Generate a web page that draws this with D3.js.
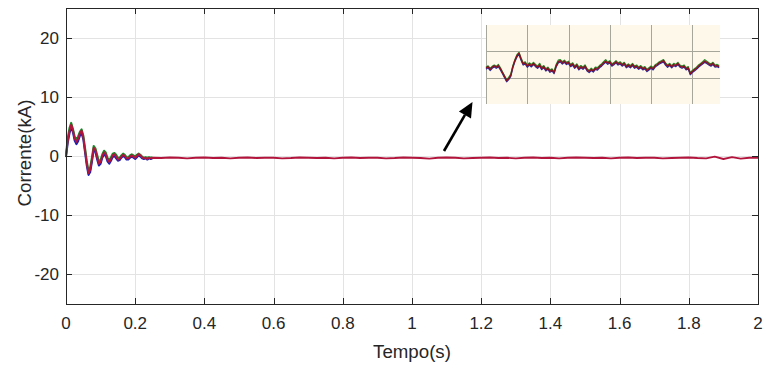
<!DOCTYPE html>
<html><head><meta charset="utf-8">
<script src="https://cdn.jsdelivr.net/npm/d3@7"></script>
<style>body{margin:0;background:#fff}svg{display:block}text{font-family:"Liberation Sans",Arial,sans-serif;fill:#262626}</style>
</head><body><svg id="c" width="764" height="365"></svg>
<script>
// ---- data ----
const xTicks = [0,0.2,0.4,0.6,0.8,1,1.2,1.4,1.6,1.8,2];
const yTicks = [-20,-10,0,10,20];
const xLabel = "Tempo(s)";
const yLabel = "Corrente(kA)";
// transient samples every 5 ms (0 .. 0.25 s)
const transientStep = 0.005;
const transientRed = [0.0,2.6,4.2,5.3,4.4,3.0,2.4,2.9,3.8,4.3,3.2,1.0,-1.2,-2.9,-2.3,-0.6,1.4,1.0,-0.2,-1.3,-1.0,0.0,0.6,0.3,-0.6,-1.0,-0.5,0.1,0.3,-0.1,-0.6,-0.5,-0.1,0.2,0.0,-0.4,-0.4,-0.1,0.1,-0.1,-0.3,0.0,0.3,0.1,-0.2,-0.4,-0.3,-0.5,-0.3,-0.4,-0.3];
const transientGreen = [0.3,3.0,4.7,5.6,4.6,3.3,2.8,3.3,4.1,4.5,3.5,1.4,-0.8,-2.5,-1.9,-0.2,1.7,1.3,0.2,-0.9,-0.7,0.3,0.9,0.6,-0.3,-0.7,-0.2,0.4,0.5,0.2,-0.3,-0.3,0.1,0.4,0.2,-0.2,-0.2,0.1,0.3,0.1,-0.1,0.2,0.4,0.2,-0.1,-0.3,-0.2,-0.3,-0.2,-0.3,-0.2];
const transientBlue = [-0.2,2.2,3.8,4.9,4.0,2.6,2.0,2.5,3.4,3.9,2.8,0.6,-1.6,-3.2,-2.7,-1.0,1.0,0.7,-0.6,-1.6,-1.3,-0.3,0.3,0.0,-0.9,-1.3,-0.8,-0.2,0.0,-0.4,-0.8,-0.7,-0.3,0.0,-0.2,-0.6,-0.6,-0.3,-0.1,-0.3,-0.5,-0.2,0.1,-0.1,-0.4,-0.5,-0.4,-0.6,-0.4,-0.5,-0.4];
// steady state samples every 25 ms (0.275 .. 2.0 s)
const steadyStart = 0.275, steadyStep = 0.025;
const steadyRed = [-0.35,-0.25,-0.3,-0.4,-0.3,-0.25,-0.35,-0.3,-0.4,-0.3,
 -0.25,-0.35,-0.3,-0.3,-0.4,-0.35,-0.25,-0.3,-0.35,-0.3,
 -0.4,-0.3,-0.25,-0.35,-0.3,-0.3,-0.4,-0.35,-0.25,-0.3,
 -0.35,-0.45,-0.3,-0.25,-0.3,-0.4,-0.35,-0.3,-0.25,-0.35,
 -0.3,-0.4,-0.3,-0.25,-0.35,-0.3,-0.4,-0.3,-0.25,-0.3,
 -0.35,-0.3,-0.4,-0.3,-0.25,-0.35,-0.3,-0.3,-0.4,-0.35,
 -0.3,-0.25,-0.35,-0.4,-0.1,-0.5,-0.2,-0.45,-0.3,-0.3];
// inset (zoomed detail), samples every 0.05 inset units
const insetStep = 0.05;
const insetGridX = [0,1,2,3,4,5];
const insetGridY = [0,-1];
const insetRed = [-0.63,-0.58,-0.68,-0.60,-0.55,-0.60,-0.54,-0.66,-0.80,-0.95,-1.10,-1.02,-0.90,-0.58,-0.35,-0.18,-0.08,-0.30,-0.48,-0.44,-0.56,-0.48,-0.55,-0.46,-0.54,-0.60,-0.52,-0.65,-0.58,-0.70,-0.64,-0.75,-0.70,-0.80,-0.55,-0.40,-0.36,-0.44,-0.38,-0.46,-0.42,-0.54,-0.48,-0.60,-0.52,-0.66,-0.58,-0.64,-0.56,-0.70,-0.76,-0.68,-0.74,-0.64,-0.67,-0.58,-0.52,-0.44,-0.38,-0.45,-0.40,-0.52,-0.47,-0.40,-0.48,-0.44,-0.52,-0.46,-0.58,-0.52,-0.58,-0.50,-0.60,-0.56,-0.64,-0.58,-0.66,-0.62,-0.72,-0.66,-0.60,-0.66,-0.55,-0.50,-0.44,-0.40,-0.36,-0.48,-0.56,-0.50,-0.58,-0.50,-0.54,-0.46,-0.56,-0.60,-0.56,-0.66,-0.62,-0.84,-0.76,-0.70,-0.64,-0.56,-0.50,-0.44,-0.38,-0.42,-0.48,-0.52,-0.46,-0.56,-0.54,-0.58];
const insetGreen = [-0.60,-0.55,-0.64,-0.57,-0.52,-0.57,-0.50,-0.62,-0.78,-0.92,-1.06,-0.98,-0.86,-0.55,-0.32,-0.14,-0.05,-0.26,-0.44,-0.40,-0.52,-0.44,-0.50,-0.42,-0.50,-0.56,-0.46,-0.60,-0.54,-0.66,-0.60,-0.70,-0.66,-0.76,-0.50,-0.34,-0.32,-0.40,-0.34,-0.42,-0.38,-0.50,-0.44,-0.56,-0.48,-0.60,-0.54,-0.60,-0.52,-0.66,-0.72,-0.64,-0.70,-0.60,-0.62,-0.54,-0.48,-0.40,-0.32,-0.41,-0.36,-0.48,-0.43,-0.36,-0.44,-0.40,-0.48,-0.42,-0.54,-0.48,-0.54,-0.46,-0.56,-0.52,-0.60,-0.54,-0.62,-0.58,-0.68,-0.62,-0.56,-0.62,-0.51,-0.46,-0.40,-0.36,-0.32,-0.44,-0.52,-0.46,-0.54,-0.46,-0.50,-0.42,-0.52,-0.56,-0.52,-0.62,-0.58,-0.80,-0.72,-0.66,-0.60,-0.52,-0.46,-0.40,-0.32,-0.38,-0.44,-0.48,-0.42,-0.52,-0.50,-0.54];
const insetBlue = [-0.67,-0.62,-0.72,-0.64,-0.59,-0.64,-0.58,-0.70,-0.84,-0.99,-1.14,-1.06,-0.94,-0.62,-0.39,-0.22,-0.12,-0.34,-0.52,-0.48,-0.60,-0.52,-0.59,-0.50,-0.58,-0.64,-0.56,-0.69,-0.62,-0.74,-0.68,-0.79,-0.74,-0.84,-0.59,-0.44,-0.40,-0.48,-0.42,-0.50,-0.46,-0.58,-0.52,-0.64,-0.56,-0.70,-0.62,-0.68,-0.60,-0.74,-0.80,-0.72,-0.78,-0.68,-0.71,-0.62,-0.56,-0.48,-0.42,-0.49,-0.44,-0.56,-0.51,-0.44,-0.52,-0.48,-0.56,-0.50,-0.62,-0.56,-0.62,-0.54,-0.64,-0.60,-0.68,-0.62,-0.70,-0.66,-0.76,-0.70,-0.64,-0.70,-0.59,-0.54,-0.48,-0.44,-0.40,-0.52,-0.60,-0.54,-0.62,-0.54,-0.58,-0.50,-0.60,-0.64,-0.60,-0.70,-0.66,-0.88,-0.80,-0.74,-0.68,-0.60,-0.54,-0.48,-0.42,-0.46,-0.52,-0.56,-0.50,-0.60,-0.58,-0.62];

// ---- layout ----
const M = {l:66, r:758, t:8, b:304};
const svg = d3.select("#c");
const x = d3.scaleLinear().domain([0,2]).range([M.l, M.r]);
const y = d3.scaleLinear().domain([-25,25]).range([M.b, M.t]);

// grid
svg.append("g").selectAll("line").data(xTicks).join("line")
  .attr("x1",d=>Math.round(x(d))+0.5).attr("x2",d=>Math.round(x(d))+0.5).attr("y1",M.t).attr("y2",M.b)
  .attr("stroke","#e3e3e3").attr("stroke-width",1);
svg.append("g").selectAll("line").data(yTicks).join("line")
  .attr("x1",M.l).attr("x2",M.r).attr("y1",d=>Math.round(y(d))+0.5).attr("y2",d=>Math.round(y(d))+0.5)
  .attr("stroke","#e3e3e3").attr("stroke-width",1);

// series
const tT = transientRed.map((_,i)=>i*transientStep);
const line = d3.line().x(d=>x(d[0])).y(d=>y(d[1]));
function draw(ts, vs, color, w){
  svg.append("path").datum(ts.map((t,i)=>[t,vs[i]]))
    .attr("d",line).attr("fill","none").attr("stroke",color).attr("stroke-width",w).attr("stroke-linejoin","round");
}
draw(tT, transientBlue, "#1f1fb4", 2);
draw(tT, transientGreen, "#1a8a2a", 2);
const redT = tT.concat(steadyRed.map((_,i)=>steadyStart+i*steadyStep));
const redV = transientRed.concat(steadyRed);
draw(redT, redV, "#b3143c", 1.9);

// axes (MATLAB box style, ticks inward)
const tl = 6;
const ax = svg.append("g");
ax.append("rect").attr("x",M.l+0.5).attr("y",M.t+0.5).attr("width",M.r-M.l).attr("height",M.b-M.t)
  .attr("fill","none").attr("stroke","#262626").attr("stroke-width",1);
xTicks.forEach(d=>{
  const px = Math.round(x(d))+0.5;
  ax.append("line").attr("x1",px).attr("x2",px).attr("y1",M.b).attr("y2",M.b-tl).attr("stroke","#262626");
  ax.append("line").attr("x1",px).attr("x2",px).attr("y1",M.t).attr("y2",M.t+tl).attr("stroke","#262626");
  ax.append("text").attr("x",x(d)).attr("y",329).attr("text-anchor","middle").attr("font-size",17).text(d3.format("~g")(d));
});
yTicks.forEach(d=>{
  const py = Math.round(y(d))+0.5;
  ax.append("line").attr("x1",M.l).attr("x2",M.l+tl).attr("y1",py).attr("y2",py).attr("stroke","#262626");
  ax.append("line").attr("x1",M.r).attr("x2",M.r-tl).attr("y1",py).attr("y2",py).attr("stroke","#262626");
  ax.append("text").attr("x",M.l-7).attr("y",y(d)+6).attr("text-anchor","end").attr("font-size",17).text(d);
});
ax.append("text").attr("x",(M.l+M.r)/2).attr("y",358).attr("text-anchor","middle").attr("font-size",18.7).text(xLabel);
ax.append("text").attr("transform",`translate(31,153) rotate(-90)`).attr("text-anchor","middle").attr("font-size",18.7).text(yLabel);

// inset
const I = {l:486, r:720, t:25, b:104};
const ix = d3.scaleLinear().domain([0,5.67]).range([I.l, I.r]);
const iy = d3.scaleLinear().domain([-1.963,0.963]).range([I.b, I.t]);
const ig = svg.append("g");
ig.append("rect").attr("x",I.l).attr("y",I.t).attr("width",I.r-I.l).attr("height",I.b-I.t).attr("fill","#fdf8e9");
ig.selectAll(".gx").data(insetGridX).join("line").attr("class","gx")
  .attr("x1",d=>Math.round(ix(d))+0.5).attr("x2",d=>Math.round(ix(d))+0.5).attr("y1",I.t).attr("y2",I.b)
  .attr("stroke","#a6a69a").attr("stroke-width",1);
ig.selectAll(".gy").data(insetGridY).join("line").attr("class","gy")
  .attr("x1",I.l).attr("x2",I.r).attr("y1",d=>Math.round(iy(d))+0.5).attr("y2",d=>Math.round(iy(d))+0.5)
  .attr("stroke","#a6a69a").attr("stroke-width",1);
const iline = d3.line().x((d,i)=>ix(i*insetStep)).y(d=>iy(d));
[[insetBlue,"#2a2aa0",1.3],[insetGreen,"#2a8a2a",1.3],[insetRed,"#8a1020",1.4]].forEach(([vs,c,w])=>{
  ig.append("path").datum(vs).attr("d",iline).attr("fill","none").attr("stroke",c).attr("stroke-width",w).attr("stroke-linejoin","round");
});

// arrow
const arr = svg.append("g");
const ax0 = [444,151], ax1 = [472.5,102];
const ang = Math.atan2(ax1[1]-ax0[1], ax1[0]-ax0[0]);
const hl = 15, hw = 7;
const bx = ax1[0]-hl*Math.cos(ang), by = ax1[1]-hl*Math.sin(ang);
arr.append("line").attr("x1",ax0[0]).attr("y1",ax0[1]).attr("x2",bx).attr("y2",by).attr("stroke","#000").attr("stroke-width",2.6);
arr.append("path").attr("d",`M${ax1[0]},${ax1[1]} L${bx+hw*Math.sin(ang)},${by-hw*Math.cos(ang)} L${bx-hw*Math.sin(ang)},${by+hw*Math.cos(ang)} Z`).attr("fill","#000");
</script></body></html>
